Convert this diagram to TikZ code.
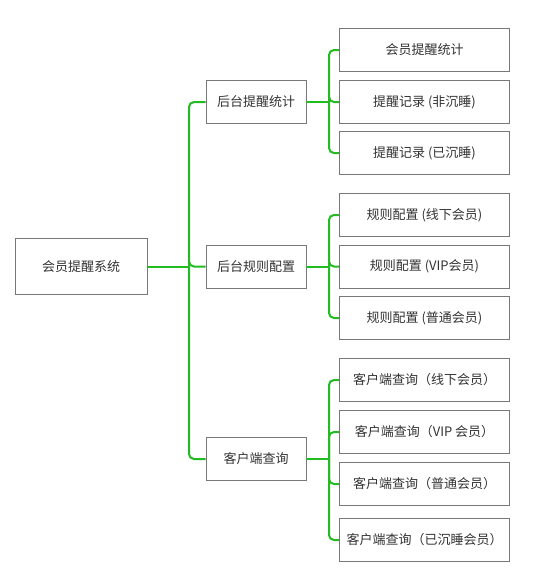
\documentclass[tikz,border=0pt]{standalone}
\usepackage{fontspec}
\setmainfont{Noto Sans CJK SC}
\definecolor{lnk}{RGB}{34,187,34}
\definecolor{bord}{RGB}{120,120,120}
\definecolor{txt}{RGB}{51,51,51}
\tikzset{
  box/.style={draw=bord, line width=0.9pt, fill=white, text=txt, inner sep=0pt, font=\fontsize{13}{15}\selectfont},
  rootbox/.style={box, minimum width=132pt, minimum height=56pt},
  midbox/.style={box, minimum width=100pt, minimum height=43pt},
  leafbox/.style={box, minimum width=170pt, minimum height=43pt},
  conn/.style={draw=lnk, line width=2pt, rounded corners=5pt}
}
\begin{document}
\begin{tikzpicture}[x=1pt,y=-1pt]
\useasboundingbox (0,0) rectangle (539,576);
\node[rootbox] (root) at (81,266.5) {会员提醒系统};
\node[midbox] (A) at (256,102) {后台提醒统计};
\node[midbox] (B) at (256,266.5) {后台规则配置};
\node[midbox] (C) at (256,459) {客户端查询};
\node[leafbox] (a1) at (424.5,50) {会员提醒统计};
\node[leafbox] (a2) at (424.5,102) {提醒记录 (非沉睡)};
\node[leafbox] (a3) at (424.5,153) {提醒记录 (已沉睡)};
\node[leafbox] (b1) at (424.5,215) {规则配置 (线下会员)};
\node[leafbox] (b2) at (424.5,266.5) {规则配置 (VIP会员)};
\node[leafbox] (b3) at (424.5,318) {规则配置 (普通会员)};
\node[leafbox] (c1) at (424.5,380) {客户端查询（线下会员）};
\node[leafbox] (c2) at (424.5,432) {客户端查询（VIP 会员）};
\node[leafbox] (c3) at (424.5,484) {客户端查询（普通会员）};
\node[leafbox] (c4) at (424.5,540) {客户端查询（已沉睡会员）};
\coordinate (t1) at (189,0);
\coordinate (t2) at (329,0);
% root trunk
\draw[conn] (root.east) -- (root.east -| t1);
\foreach \m in {A,B,C}{
  \draw[conn] (root.east -| t1) |- (\m.west);
}
% second level
\foreach \m/\kids in {A/{a1,a2,a3},B/{b1,b2,b3},C/{c1,c2,c3,c4}}{
  \draw[conn] (\m.east) -- (\m.east -| t2);
  \foreach \k in \kids {
    \draw[conn] (\m.east -| t2) |- (\k.west);
  }
}
\end{tikzpicture}
\end{document}
